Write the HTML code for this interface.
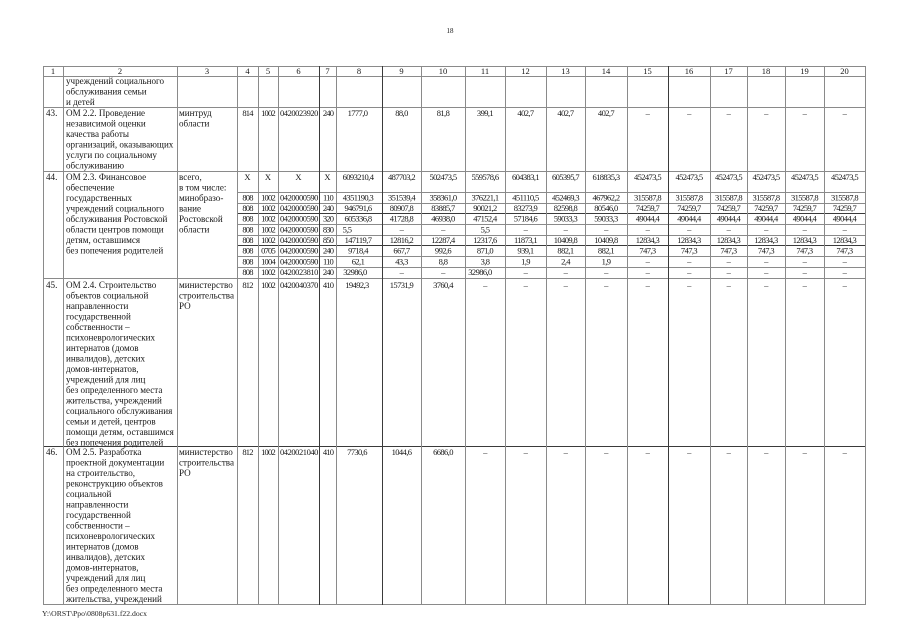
<!DOCTYPE html>
<html><head><meta charset="utf-8"><style>
html,body{margin:0;padding:0;background:#fff;}
svg{display:block;}
.t{font-family:"Liberation Serif","Noto Serif CJK SC",serif;font-size:9.1px;fill:#161616;}
.n{font-family:"Liberation Serif",serif;font-size:8.5px;fill:#161616;letter-spacing:-0.6px;text-anchor:middle;}
.c{font-family:"Liberation Serif",serif;font-size:8.5px;fill:#161616;letter-spacing:-0.8px;text-anchor:middle;}
.c6{font-family:"Liberation Serif",serif;font-size:8.5px;fill:#161616;letter-spacing:-0.45px;text-anchor:middle;}
.h{font-family:"Liberation Serif",serif;font-size:8.5px;fill:#161616;text-anchor:middle;}
.l line{stroke:#8a8a8a;stroke-width:1;shape-rendering:crispEdges;}
.d{stroke:#3a3a3a !important;}
</style></head><body>
<svg width="905" height="640" viewBox="0 0 905 640" xmlns="http://www.w3.org/2000/svg">
<rect width="905" height="640" fill="#fff"/>
<text x="450" y="33" class="h" style="font-size:7px">18</text>

<g class="l">
<!-- horizontal full -->
<line x1="43" y1="66.5" x2="865" y2="66.5"/>
<line x1="43" y1="76.5" x2="865" y2="76.5"/>
<line x1="43" y1="107.5" x2="865" y2="107.5"/>
<line x1="43" y1="171.5" x2="865" y2="171.5"/>
<line x1="43" y1="278.5" x2="865" y2="278.5"/>
<line x1="43" y1="446.5" x2="865" y2="446.5" class="d"/>
<line x1="43" y1="604.5" x2="865" y2="604.5"/>
<!-- partial -->
<line x1="237" y1="192.5" x2="865" y2="192.5"/>
<line x1="237" y1="203.5" x2="865" y2="203.5"/>
<line x1="237" y1="213.5" x2="865" y2="213.5" class="d"/>
<line x1="237" y1="224.5" x2="865" y2="224.5"/>
<line x1="237" y1="235.5" x2="865" y2="235.5"/>
<line x1="237" y1="245.5" x2="865" y2="245.5" class="d"/>
<line x1="237" y1="256.5" x2="865" y2="256.5"/>
<line x1="237" y1="267.5" x2="865" y2="267.5"/>
<!-- vertical -->
<line x1="43.5" y1="66" x2="43.5" y2="605"/>
<line x1="63.5" y1="66" x2="63.5" y2="605"/>
<line x1="177.5" y1="66" x2="177.5" y2="605"/>
<line x1="237.5" y1="66" x2="237.5" y2="605"/>
<line x1="258.5" y1="66" x2="258.5" y2="605"/>
<line x1="278.5" y1="66" x2="278.5" y2="605"/>
<line x1="319.5" y1="66" x2="319.5" y2="605" class="d"/>
<line x1="336.5" y1="66" x2="336.5" y2="605"/>
<line x1="382.5" y1="66" x2="382.5" y2="605" class="d"/>
<line x1="421.5" y1="66" x2="421.5" y2="605"/>
<line x1="465.5" y1="66" x2="465.5" y2="605"/>
<line x1="505.5" y1="66" x2="505.5" y2="605"/>
<line x1="546.5" y1="66" x2="546.5" y2="605"/>
<line x1="585.5" y1="66" x2="585.5" y2="605"/>
<line x1="627.5" y1="66" x2="627.5" y2="605"/>
<line x1="668.5" y1="66" x2="668.5" y2="605" class="d"/>
<line x1="710.5" y1="66" x2="710.5" y2="605"/>
<line x1="747.5" y1="66" x2="747.5" y2="605"/>
<line x1="785.5" y1="66" x2="785.5" y2="605"/>
<line x1="824.5" y1="66" x2="824.5" y2="605"/>
<line x1="865.5" y1="66" x2="865.5" y2="605"/>
</g>

<!-- header -->
<g class="h">
<text x="53" y="74">1</text><text x="120" y="74">2</text><text x="207" y="74">3</text>
<text x="247.5" y="74">4</text><text x="268" y="74">5</text><text x="298.5" y="74">6</text>
<text x="327.5" y="74">7</text><text x="359" y="74">8</text><text x="401.5" y="74">9</text>
<text x="443" y="74">10</text><text x="485" y="74">11</text><text x="525.5" y="74">12</text>
<text x="565.5" y="74">13</text><text x="606" y="74">14</text><text x="647.5" y="74">15</text>
<text x="689" y="74">16</text><text x="728.5" y="74">17</text><text x="766" y="74">18</text>
<text x="804.5" y="74">19</text><text x="844.5" y="74">20</text>
</g>

<!-- row 42 continuation -->
<g class="t">
<text x="66" y="84">учреждений социального</text>
<text x="66" y="94.5">обслуживания семьи</text>
<text x="66" y="105">и детей</text>
</g>

<!-- row 43 -->
<g class="t">
<text x="46" y="116">43.</text>
<text x="66" y="116">ОМ 2.2. Проведение</text>
<text x="66" y="126.5">независимой оценки</text>
<text x="66" y="137">качества работы</text>
<text x="66" y="147.5">организаций, оказывающих</text>
<text x="66" y="158">услуги по социальному</text>
<text x="66" y="168.5">обслуживанию</text>
<text x="179" y="116">минтруд</text>
<text x="179" y="126.5">области</text>
</g>
<text class="c" x="247.5" y="116">814</text>
<text class="c" x="268" y="116">1002</text>
<text class="c6" x="299" y="116">0420023920</text>
<text class="c" x="328" y="116">240</text>
<g class="n">
<text x="357.5" y="116">1777,0</text><text x="401.5" y="116">88,0</text><text x="443" y="116">81,8</text>
<text x="485" y="116">399,1</text><text x="525.5" y="116">402,7</text><text x="565.5" y="116">402,7</text>
<text x="606" y="116">402,7</text><text x="647.5" y="116">–</text><text x="689" y="116">–</text>
<text x="728.5" y="116">–</text><text x="766" y="116">–</text><text x="804.5" y="116">–</text><text x="844.5" y="116">–</text>
</g>

<!-- row 44 -->
<g class="t">
<text x="46" y="180">44.</text>
<text x="66" y="180">ОМ 2.3. Финансовое</text>
<text x="66" y="190.5">обеспечение</text>
<text x="66" y="201">государственных</text>
<text x="66" y="211.5">учреждений социального</text>
<text x="66" y="222">обслуживания Ростовской</text>
<text x="66" y="232.5">области центров помощи</text>
<text x="66" y="243">детям, оставшимся</text>
<text x="66" y="253.5">без попечения родителей</text>
<text x="179" y="180">всего,</text>
<text x="179" y="190.5">в том числе:</text>
<text x="179" y="201">минобразо-</text>
<text x="179" y="211.5">вание</text>
<text x="179" y="222">Ростовской</text>
<text x="179" y="232.5">области</text>
</g>
<g class="h">
<text x="247.5" y="180">X</text><text x="268" y="180">X</text><text x="298.5" y="180">X</text><text x="327.5" y="180">X</text>
</g>
<g class="n">
<text x="358" y="180">6093210,4</text><text x="401.5" y="180">487703,2</text><text x="443" y="180">502473,5</text>
<text x="485" y="180">559578,6</text><text x="525.5" y="180">604383,1</text><text x="565.5" y="180">605395,7</text>
<text x="606" y="180">618835,3</text><text x="647.5" y="180">452473,5</text><text x="689" y="180">452473,5</text>
<text x="728.5" y="180">452473,5</text><text x="766" y="180">452473,5</text><text x="804.5" y="180">452473,5</text><text x="844.5" y="180">452473,5</text>
</g>

<!-- sub rows -->
<g>
<text class="c" x="247.5" y="200.5">808</text><text class="c" x="268" y="200.5">1002</text><text class="c6" x="299" y="200.5">0420000590</text><text class="c" x="328" y="200.5">110</text>
<text class="c" x="247.5" y="211">808</text><text class="c" x="268" y="211">1002</text><text class="c6" x="299" y="211">0420000590</text><text class="c" x="328" y="211">240</text>
<text class="c" x="247.5" y="221.5">808</text><text class="c" x="268" y="221.5">1002</text><text class="c6" x="299" y="221.5">0420000590</text><text class="c" x="328" y="221.5">320</text>
<text class="c" x="247.5" y="232.5">808</text><text class="c" x="268" y="232.5">1002</text><text class="c6" x="299" y="232.5">0420000590</text><text class="c" x="328" y="232.5">830</text>
<text class="c" x="247.5" y="243">808</text><text class="c" x="268" y="243">1002</text><text class="c6" x="299" y="243">0420000590</text><text class="c" x="328" y="243">850</text>
<text class="c" x="247.5" y="253.5">808</text><text class="c" x="268" y="253.5">0705</text><text class="c6" x="299" y="253.5">0420000590</text><text class="c" x="328" y="253.5">240</text>
<text class="c" x="247.5" y="264.5">808</text><text class="c" x="268" y="264.5">1004</text><text class="c6" x="299" y="264.5">0420000590</text><text class="c" x="328" y="264.5">110</text>
<text class="c" x="247.5" y="275">808</text><text class="c" x="268" y="275">1002</text><text class="c6" x="299" y="275">0420023810</text><text class="c" x="328" y="275">240</text>
</g>
<g class="n">
<!-- 110 -->
<text x="358" y="200.5">4351190,3</text><text x="401.5" y="200.5">351539,4</text><text x="443" y="200.5">358361,0</text>
<text x="485" y="200.5">376221,1</text><text x="525.5" y="200.5">451110,5</text><text x="565.5" y="200.5">452469,3</text>
<text x="606" y="200.5">467962,2</text><text x="647.5" y="200.5">315587,8</text><text x="689" y="200.5">315587,8</text>
<text x="728.5" y="200.5">315587,8</text><text x="766" y="200.5">315587,8</text><text x="804.5" y="200.5">315587,8</text><text x="844.5" y="200.5">315587,8</text>
<!-- 240 -->
<text x="358" y="211">946791,6</text><text x="401.5" y="211">80907,8</text><text x="443" y="211">83885,7</text>
<text x="485" y="211">90021,2</text><text x="525.5" y="211">83273,9</text><text x="565.5" y="211">82598,8</text>
<text x="606" y="211">80546,0</text><text x="647.5" y="211">74259,7</text><text x="689" y="211">74259,7</text>
<text x="728.5" y="211">74259,7</text><text x="766" y="211">74259,7</text><text x="804.5" y="211">74259,7</text><text x="844.5" y="211">74259,7</text>
<!-- 320 -->
<text x="358" y="221.5">605336,8</text><text x="401.5" y="221.5">41728,8</text><text x="443" y="221.5">46938,0</text>
<text x="485" y="221.5">47152,4</text><text x="525.5" y="221.5">57184,6</text><text x="565.5" y="221.5">59033,3</text>
<text x="606" y="221.5">59033,3</text><text x="647.5" y="221.5">49044,4</text><text x="689" y="221.5">49044,4</text>
<text x="728.5" y="221.5">49044,4</text><text x="766" y="221.5">49044,4</text><text x="804.5" y="221.5">49044,4</text><text x="844.5" y="221.5">49044,4</text>
<!-- 830 -->
<text x="347" y="232.5">5,5</text><text x="401.5" y="232.5">–</text><text x="443" y="232.5">–</text>
<text x="485" y="232.5">5,5</text><text x="525.5" y="232.5">–</text><text x="565.5" y="232.5">–</text>
<text x="606" y="232.5">–</text><text x="647.5" y="232.5">–</text><text x="689" y="232.5">–</text>
<text x="728.5" y="232.5">–</text><text x="766" y="232.5">–</text><text x="804.5" y="232.5">–</text><text x="844.5" y="232.5">–</text>
<!-- 850 -->
<text x="358" y="243">147119,7</text><text x="401.5" y="243">12816,2</text><text x="443" y="243">12287,4</text>
<text x="485" y="243">12317,6</text><text x="525.5" y="243">11873,1</text><text x="565.5" y="243">10409,8</text>
<text x="606" y="243">10409,8</text><text x="647.5" y="243">12834,3</text><text x="689" y="243">12834,3</text>
<text x="728.5" y="243">12834,3</text><text x="766" y="243">12834,3</text><text x="804.5" y="243">12834,3</text><text x="844.5" y="243">12834,3</text>
<!-- 0705 240 -->
<text x="358" y="253.5">9718,4</text><text x="401.5" y="253.5">667,7</text><text x="443" y="253.5">992,6</text>
<text x="485" y="253.5">871,0</text><text x="525.5" y="253.5">939,1</text><text x="565.5" y="253.5">882,1</text>
<text x="606" y="253.5">882,1</text><text x="647.5" y="253.5">747,3</text><text x="689" y="253.5">747,3</text>
<text x="728.5" y="253.5">747,3</text><text x="766" y="253.5">747,3</text><text x="804.5" y="253.5">747,3</text><text x="844.5" y="253.5">747,3</text>
<!-- 1004 110 -->
<text x="358" y="264.5">62,1</text><text x="401.5" y="264.5">43,3</text><text x="443" y="264.5">8,8</text>
<text x="485" y="264.5">3,8</text><text x="525.5" y="264.5">1,9</text><text x="565.5" y="264.5">2,4</text>
<text x="606" y="264.5">1,9</text><text x="647.5" y="264.5">–</text><text x="689" y="264.5">–</text>
<text x="728.5" y="264.5">–</text><text x="766" y="264.5">–</text><text x="804.5" y="264.5">–</text><text x="844.5" y="264.5">–</text>
<!-- 23810 240 -->
<text x="355" y="275">32986,0</text><text x="401.5" y="275">–</text><text x="443" y="275">–</text>
<text x="480" y="275">32986,0</text><text x="525.5" y="275">–</text><text x="565.5" y="275">–</text>
<text x="606" y="275">–</text><text x="647.5" y="275">–</text><text x="689" y="275">–</text>
<text x="728.5" y="275">–</text><text x="766" y="275">–</text><text x="804.5" y="275">–</text><text x="844.5" y="275">–</text>
</g>

<!-- row 45 -->
<g class="t">
<text x="46" y="288">45.</text>
<text x="66" y="288">ОМ 2.4. Строительство</text>
<text x="66" y="298.5">объектов социальной</text>
<text x="66" y="309">направленности</text>
<text x="66" y="319.5">государственной</text>
<text x="66" y="330">собственности –</text>
<text x="66" y="340.5">психоневрологических</text>
<text x="66" y="351">интернатов (домов</text>
<text x="66" y="361.5">инвалидов), детских</text>
<text x="66" y="372">домов-интернатов,</text>
<text x="66" y="382.5">учреждений для лиц</text>
<text x="66" y="393">без определенного места</text>
<text x="66" y="403.5">жительства, учреждений</text>
<text x="66" y="414">социального обслуживания</text>
<text x="66" y="424.5">семьи и детей, центров</text>
<text x="66" y="435">помощи детям, оставшимся</text>
<text x="66" y="445.5">без попечения родителей</text>
<text x="179" y="288">министерство</text>
<text x="179" y="298.5">строительства</text>
<text x="179" y="309">РО</text>
</g>
<text class="c" x="247.5" y="288">812</text>
<text class="c" x="268" y="288">1002</text>
<text class="c6" x="299" y="288">0420040370</text>
<text class="c" x="328" y="288">410</text>
<g class="n">
<text x="357" y="288">19492,3</text><text x="401.5" y="288">15731,9</text><text x="443" y="288">3760,4</text>
<text x="485" y="288">–</text><text x="525.5" y="288">–</text><text x="565.5" y="288">–</text>
<text x="606" y="288">–</text><text x="647.5" y="288">–</text><text x="689" y="288">–</text>
<text x="728.5" y="288">–</text><text x="766" y="288">–</text><text x="804.5" y="288">–</text><text x="844.5" y="288">–</text>
</g>

<!-- row 46 -->
<g class="t">
<text x="46" y="455">46.</text>
<text x="66" y="455">ОМ 2.5. Разработка</text>
<text x="66" y="465.5">проектной документации</text>
<text x="66" y="476">на строительство,</text>
<text x="66" y="486.5">реконструкцию объектов</text>
<text x="66" y="497">социальной</text>
<text x="66" y="507.5">направленности</text>
<text x="66" y="518">государственной</text>
<text x="66" y="528.5">собственности –</text>
<text x="66" y="539">психоневрологических</text>
<text x="66" y="549.5">интернатов (домов</text>
<text x="66" y="560">инвалидов), детских</text>
<text x="66" y="570.5">домов-интернатов,</text>
<text x="66" y="581">учреждений для лиц</text>
<text x="66" y="591.5">без определенного места</text>
<text x="66" y="602">жительства, учреждений</text>
<text x="179" y="455">министерство</text>
<text x="179" y="465.5">строительства</text>
<text x="179" y="476">РО</text>
</g>
<text class="c" x="247.5" y="455">812</text>
<text class="c" x="268" y="455">1002</text>
<text class="c6" x="299" y="455">0420021040</text>
<text class="c" x="328" y="455">410</text>
<g class="n">
<text x="357" y="455">7730,6</text><text x="401.5" y="455">1044,6</text><text x="443" y="455">6686,0</text>
<text x="485" y="455">–</text><text x="525.5" y="455">–</text><text x="565.5" y="455">–</text>
<text x="606" y="455">–</text><text x="647.5" y="455">–</text><text x="689" y="455">–</text>
<text x="728.5" y="455">–</text><text x="766" y="455">–</text><text x="804.5" y="455">–</text><text x="844.5" y="455">–</text>
</g>

<text x="42" y="616" style="font-family:'Liberation Serif',serif;font-size:7.5px;fill:#222" textLength="105" lengthAdjust="spacingAndGlyphs">Y:\ORST\Ppo\0808p631.f22.docx</text>
</svg>
</body></html>
